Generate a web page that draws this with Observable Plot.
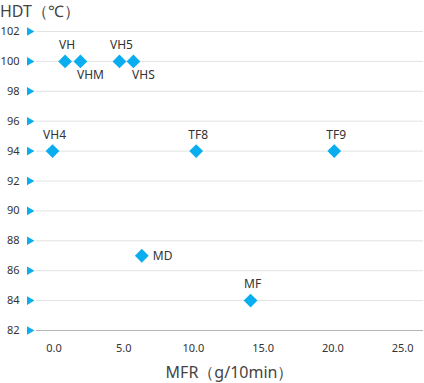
<!DOCTYPE html>
<html>
<head>
<meta charset="utf-8">
<script src="https://cdn.jsdelivr.net/npm/d3@7"></script>
<script src="https://cdn.jsdelivr.net/npm/@observablehq/plot@0.6"></script>
<style>
  html, body { margin: 0; padding: 0; background: #fff; }
  body { width: 424px; height: 383px; overflow: hidden; font-family: "Noto Sans", sans-serif; }
  #wrap { position: relative; width: 424px; height: 383px; }
  .ttl { position: absolute; color: #444; font-size: 16px; line-height: 22px; white-space: nowrap; }
</style>
</head>
<body>
<div id="wrap">
  <div id="chart" style="position:absolute;left:0;top:0;"></div>
  <div class="ttl" id="ytitle" style="left:0;top:0;">HDT（℃）</div>
  <div class="ttl" id="xtitle" style="left:0;width:459px;text-align:center;top:361px;">MFR（g/10min）</div>
</div>
<script>
const grades = ["VH", "VHM", "VH5", "VHS", "VH4", "TF8", "TF9", "MD", "MF"];
const mfr    = [0.8, 1.9, 4.7, 5.7, -0.1, 10.2, 20.1, 6.3, 14.1];
const hdt    = [100, 100, 100, 100, 94, 94, 94, 87, 84];
const yTicks = [82, 84, 86, 88, 90, 92, 94, 96, 98, 100, 102];
const xTicks = [0, 5, 10, 15, 20, 25];
const belowLabels = ["VHM", "VHS"];
const rightLabels = ["MD"];

const data = grades.map((g, i) => ({grade: g, mfr: mfr[i], hdt: hdt[i]}));
const blue = "#0aaeef";

const chart = Plot.plot({
  width: 424,
  height: 383,
  marginLeft: 36,
  marginRight: 1,
  marginTop: 31,
  marginBottom: 53,
  style: {fontFamily: "Noto Sans, sans-serif", fontSize: "11px", color: "#333", background: "transparent"},
  x: {domain: [-1.25, 26.5]},
  y: {domain: [82, 102]},
  marks: [
    Plot.gridY(yTicks.filter(t => t !== 82), {stroke: "#e2e2e2", strokeOpacity: 1, strokeWidth: 1}),
    Plot.ruleY([82], {stroke: "#b4b4b4", strokeWidth: 1}),
    Plot.dot(yTicks, {y: d => d, frameAnchor: "left", dx: -7, symbol: "triangle", rotate: 90, r: 3.2, fill: blue, stroke: null}),
    Plot.axisY(yTicks, {tickSize: 0, tickPadding: 17, label: null, fill: "#333", fontSize: 11}),
    Plot.axisX(xTicks, {tickSize: 0, tickPadding: 14, label: null, tickFormat: d => d.toFixed(1), fill: "#333", fontSize: 11}),
    Plot.dot(data, {x: "mfr", y: "hdt", symbol: "diamond2", r: 6.2, fill: blue, stroke: null}),
    Plot.text(data.filter(d => !belowLabels.includes(d.grade) && !rightLabels.includes(d.grade)),
      {x: "mfr", y: "hdt", text: "grade", dy: -16, dx: 2, fontSize: 12, fill: "#333"}),
    Plot.text(data.filter(d => belowLabels.includes(d.grade)),
      {x: "mfr", y: "hdt", text: "grade", dy: 14, dx: 10, fontSize: 12, fill: "#333"}),
    Plot.text(data.filter(d => rightLabels.includes(d.grade)),
      {x: "mfr", y: "hdt", text: "grade", dx: 11, textAnchor: "start", fontSize: 12, fill: "#333"})
  ]
});
document.getElementById("chart").appendChild(chart);
</script>
</body>
</html>
